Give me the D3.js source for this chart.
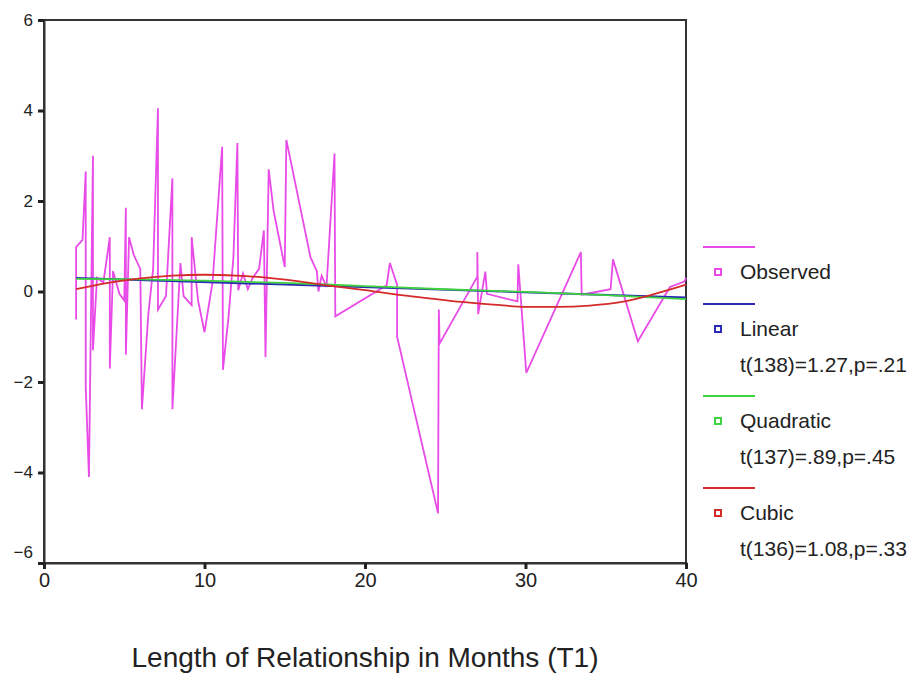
<!DOCTYPE html>
<html>
<head>
<meta charset="utf-8">
<script src="https://cdn.jsdelivr.net/npm/d3@7"></script>
<style>
  body { margin: 0; background: #fff; }
  svg text { font-family: "Liberation Sans", Arial, sans-serif; fill: #222; }
</style>
</head>
<body>
<svg id="drawspace" width="917" height="673"></svg>
<script>
let drawSpace = d3.select("#drawspace");

// observed sequence (months, value)
let obsX = [2.0, 2.0, 2.4, 2.6, 2.6, 2.8, 3.05, 3.05, 3.3, 3.7, 4.1, 4.1, 4.3, 4.7, 5.0, 5.1, 5.1, 5.3, 5.6, 6.0, 6.1,
  6.5, 6.8, 7.1, 7.1, 7.6, 8.0, 8.0, 8.5, 8.7, 9.2, 9.2, 9.6, 10.0, 10.5, 11.1, 11.15, 11.5, 11.8, 12.05, 12.1,
  12.4, 12.7, 13.0, 13.4, 13.7, 13.8, 14.0, 14.3, 15.0, 15.1, 16.6, 17.0, 17.1, 17.3, 17.6, 18.1, 18.15, 21.35,
  21.55, 22.0, 22.0, 24.55, 24.6, 24.65, 27.0, 27.0, 27.05, 27.5, 27.6, 29.5, 29.55, 30.05, 33.45, 33.5, 35.3,
  35.45, 37.0, 39.0, 39.9, 40.0];
let obsY = [-0.62, 0.98, 1.14, 2.65, -2.1, -4.1, 3.0, -1.3, 0.3, 0.2, 1.2, -1.7, 0.45, -0.05, -0.2, 1.85, -1.4, 1.2, 0.8, 0.5, -2.6,
  -0.5, 0.5, 4.05, -0.4, -0.1, 2.5, -2.6, 0.63, -0.1, -0.3, 1.2, -0.2, -0.9, 0.2, 3.2, -1.73, -0.55, 0.75, 3.28, 0.03,
  0.4, 0.05, 0.3, 0.5, 1.35, -1.45, 2.7, 1.8, 0.54, 3.35, 0.76, 0.45, 0.0, 0.35, 0.1, 3.05, -0.55, 0.14,
  0.63, 0.15, -1.0, -4.9, -0.4, -1.15, 0.33, 0.87, -0.5, 0.44, -0.05, -0.22, 0.6, -1.8, 0.87, -0.07, 0.05,
  0.71, -1.1, 0.1, 0.22, 0.3];

// fitted curves
let linX = [2, 40];
let linY = [0.3, -0.13];
let quadX = [2, 6, 10, 15, 20, 25, 30, 35, 40];
let quadY = [0.28, 0.27, 0.24, 0.19, 0.12, 0.05, -0.01, -0.08, -0.17];
let cubX = [2, 4, 6, 8, 10, 12, 14, 16, 18, 20, 22, 24, 26, 28, 30, 32, 34, 36, 38, 40];
let cubY = [0.05, 0.19, 0.29, 0.35, 0.37, 0.35, 0.3, 0.22, 0.12, 0.03, -0.07, -0.15, -0.23, -0.29, -0.34, -0.34, -0.31, -0.23, -0.06, 0.15];

let xTicks = [0, 10, 20, 30, 40];
let yTicks = [-6, -4, -2, 0, 2, 4, 6];

let legendNames = ["Observed", "Linear", "Quadratic", "Cubic"];
let legendStats = ["", "t(138)=1.27,p=.21", "t(137)=.89,p=.45", "t(136)=1.08,p=.33"];
let legendColors = ["#e84be8", "#2a2ab4", "#3fd23f", "#d42a2a"];

let xTitle = "Length of Relationship in Months (T1)";

let plotL = 44, plotR = 686, plotT = 20, plotB = 563;

let x = d3.scaleLinear().domain([0, 40]).range([plotL, plotR]);
let y = d3.scaleLinear().domain([-6, 6]).range([plotB, plotT]);

// frame
drawSpace.append("rect")
  .attr("x", plotL).attr("y", plotT)
  .attr("width", plotR - plotL).attr("height", plotB - plotT)
  .attr("fill", "none").attr("stroke", "#333").attr("stroke-width", 2);

// axes
let yAxis = drawSpace.append("g")
  .attr("transform", "translate(" + plotL + ",0)")
  .call(d3.axisLeft(y).tickValues(yTicks).tickSize(6).tickPadding(5).tickFormat(d3.format("d")));
yAxis.select(".domain").attr("stroke", "#333").attr("stroke-width", 2);
yAxis.selectAll(".tick line").attr("stroke", "#222").attr("stroke-width", 3);
yAxis.selectAll(".tick text")
  .attr("font-size", 17).attr("fill", "#222")
  .attr("dy", d => d == -6 ? "-0.35em" : "0.32em");

let xAxis = drawSpace.append("g")
  .attr("transform", "translate(0," + plotB + ")")
  .call(d3.axisBottom(x).tickValues(xTicks).tickSize(6).tickPadding(4).tickFormat(d3.format("d")));
xAxis.select(".domain").attr("stroke", "#333").attr("stroke-width", 2);
xAxis.selectAll(".tick line").attr("stroke", "#222").attr("stroke-width", 3);
xAxis.selectAll(".tick text").attr("font-size", 20).attr("fill", "#222");

drawSpace.append("text")
  .attr("x", 365).attr("y", 667)
  .attr("text-anchor", "middle")
  .attr("font-size", 28)
  .text(xTitle);

// lines
let line = d3.line().x(d => x(d[0])).y(d => y(d[1]));
let smooth = d3.line().x(d => x(d[0])).y(d => y(d[1])).curve(d3.curveMonotoneX);

drawSpace.append("path")
  .attr("d", line(d3.zip(obsX, obsY)))
  .attr("fill", "none").attr("stroke", legendColors[0]).attr("stroke-width", 1.8);

drawSpace.append("path")
  .attr("d", line(d3.zip(linX, linY)))
  .attr("fill", "none").attr("stroke", legendColors[1]).attr("stroke-width", 2);

drawSpace.append("path")
  .attr("d", smooth(d3.zip(quadX, quadY)))
  .attr("fill", "none").attr("stroke", legendColors[2]).attr("stroke-width", 1.8);

drawSpace.append("path")
  .attr("d", smooth(d3.zip(cubX, cubY)))
  .attr("fill", "none").attr("stroke", legendColors[3]).attr("stroke-width", 1.8);

// legend
let lineYs = [247, 304, 396, 488];
legendNames.forEach((name, i) => {
  let ly = lineYs[i];
  drawSpace.append("line")
    .attr("x1", 703).attr("x2", 755).attr("y1", ly).attr("y2", ly)
    .attr("stroke", legendColors[i]).attr("stroke-width", 2);
  drawSpace.append("rect")
    .attr("x", 715).attr("y", ly + 22).attr("width", 6).attr("height", 6)
    .attr("fill", "#fff").attr("stroke", legendColors[i]).attr("stroke-width", 2);
  drawSpace.append("text")
    .attr("x", 740).attr("y", ly + 25).attr("dy", "0.35em")
    .attr("font-size", 21)
    .text(name);
  if (legendStats[i]) {
    drawSpace.append("text")
      .attr("x", 740).attr("y", ly + 61).attr("dy", "0.35em")
      .attr("font-size", 21)
      .text(legendStats[i]);
  }
});
</script>
</body>
</html>
